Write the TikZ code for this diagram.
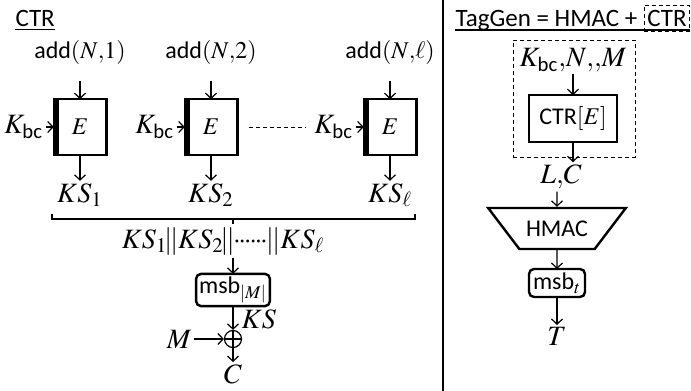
\documentclass[tikz,border=0pt]{standalone}
\usepackage{amsmath}
\usepackage{mathptmx}
\usepackage[no-math]{fontspec}
\setsansfont{Carlito}
\usetikzlibrary{positioning,shapes.geometric,arrows.meta}

\begin{document}
\begin{tikzpicture}[
    x=0.5pt, y=-0.5pt,
    line width=0.6pt,
    lbl/.style={font=\fontsize{14}{16}\selectfont, inner sep=1pt},
    inp/.style={font=\sffamily\fontsize{12}{14}\selectfont, inner sep=1pt},
    hdr/.style={font=\sffamily\fontsize{12.5}{14}\selectfont, inner sep=0pt},
    enc/.style={draw, line width=1.2pt, outer sep=0pt, minimum width=26.3pt, minimum height=27.8pt, font=\fontsize{12}{14}\selectfont},
    sqbox/.style={draw, line width=1.2pt, outer sep=0pt, font=\sffamily\fontsize{12}{14}\selectfont},
    rbox/.style={sqbox, rounded corners=2.5pt, inner sep=1.5pt},
    dbox/.style={draw, line width=0.5pt, dash pattern=on 2pt off 1.5pt},
    arr/.style={-{Straight Barb[length=2.6pt,width=5.5pt]}}
]
    \useasboundingbox (0,0) rectangle (691,391);

    % CTR mode
    \node[hdr, anchor=base west] (hc) at (15,26) {CTR};
    \draw ([yshift=-1.75pt]hc.base west) -- ([yshift=-1.75pt]hc.base east);

    \node[enc] (e1) at (80,127) {$E$};
    \node[enc] (e2) at (211,127) {$E$};
    \node[enc] (e3) at (390,127) {$E$};
    \foreach \b in {e1,e2,e3}
        \fill (\b.north west) rectangle ([xshift=2.4pt]\b.south west);

    \node[inp, above=16pt of e1] (a1) {add$(N{,}1)$};
    \node[inp, above=16pt of e2] (a2) {add$(N{,}2)$};
    \node[inp, above=16pt of e3] (a3) {add$(N{,}\ell)$};

    \node[lbl, left=4pt of e1] (k1) {$K_{\textsf{bc}}$};
    \node[lbl, left=4pt of e2] (k2) {$K_{\textsf{bc}}$};
    \node[lbl, left=4pt of e3] (k3) {$K_{\textsf{bc}}$};

    \node[lbl, below=13pt of e1] (s1) {$KS_1$};
    \node[lbl, below=13pt of e2] (s2) {$KS_2$};
    \node[lbl, below=13pt of e3] (s3) {$KS_\ell$};

    \foreach \i in {1,2,3} {
        \draw[arr, shorten <=7pt] (a\i) -- (e\i);
        \draw[arr] (k\i) -- (e\i);
        \draw[arr] (e\i) -- (s\i);
    }
    \draw[dbox, shorten <=6pt, shorten >=3pt] (e2) -- (k3);

    % brace
    \draw (52,214) -- (52,219) -- (415,219) -- (415,214);
    \draw (233,219) -- (233,224);

    \node[lbl, anchor=base] (cat) at (223,248) {$KS_1\mkern-2mu|\mkern-1mu|KS_2\mkern-2mu|\mkern-1mu|\mkern-1mu{\cdot}\mkern-1.5mu{\cdot}\mkern-1.5mu{\cdot}\mkern-1.5mu{\cdot}\mkern-1.5mu{\cdot}\mkern-1.5mu{\cdot}\mkern-1mu|\mkern-1mu|KS_\ell$};
    \node[rbox, minimum width=34pt, minimum height=13pt] (msb) at (233,290) {msb$_{|M|}$};
    \node[draw, circle, inner sep=0pt, minimum size=8.5pt] (xor) at (233,339) {};
    \draw (xor.north) -- (xor.south) (xor.west) -- (xor.east);
    \node[lbl, anchor=west] (ks) at (239,319) {$KS$};
    \node[lbl, left=15pt of xor] (m) {$M$};
    \node[lbl, below=7pt of xor] (c) {$C$};

    \draw[arr] (cat.south -| msb.north) -- (msb);
    \draw[arr] (msb) -- (xor);
    \draw[arr] (m) -- (xor);
    \draw[arr] (xor) -- (c);

    % separator
    \draw (443,0) -- (443,391);

    % TagGen
    \node[hdr, anchor=base west] (tg) at (455,26.5) {TagGen = HMAC +};
    \node[hdr, dbox, inner xsep=1.5pt, inner ysep=2.5pt, anchor=base west] (tgc) at ([xshift=3pt]tg.base east) {CTR};
    \draw ([yshift=-1.75pt]tg.base west) -- ([yshift=-1.75pt]tgc.base east);

    \node[dbox, minimum width=61pt, minimum height=58.5pt] (grp) at (574,98.5) {};
    \node[lbl] (kin) at (573,60) {$K_{\textsf{bc}}{,}N{,}{,}M$};
    \node[sqbox, minimum width=43.8pt, minimum height=23.3pt] (ctr) at (573,118.5) {CTR$[E]$};
    \node[lbl] (lc) at (561,177) {$L{,}C$};
    \node[trapezium, draw, line width=1.2pt, shape border rotate=180, trapezium angle=43,
          trapezium stretches=true, minimum width=68pt, minimum height=20.5pt,
          font=\sffamily\fontsize{12}{14}\selectfont] (hmac) at (557,228.5) {HMAC};
    \node[rbox, minimum width=28pt, minimum height=14pt] (msbt) at (557,283) {msb$_t$};
    \node[lbl, below=14pt of msbt] (tag) {$T$};

    \draw[arr] (kin) -- (ctr);
    \draw[arr] (ctr) -- (ctr |- lc.north);
    \draw[arr] (lc.south -| hmac) -- (hmac);
    \draw[arr] (hmac) -- (msbt);
    \draw[arr] (msbt) -- (tag);
\end{tikzpicture}
\end{document}
